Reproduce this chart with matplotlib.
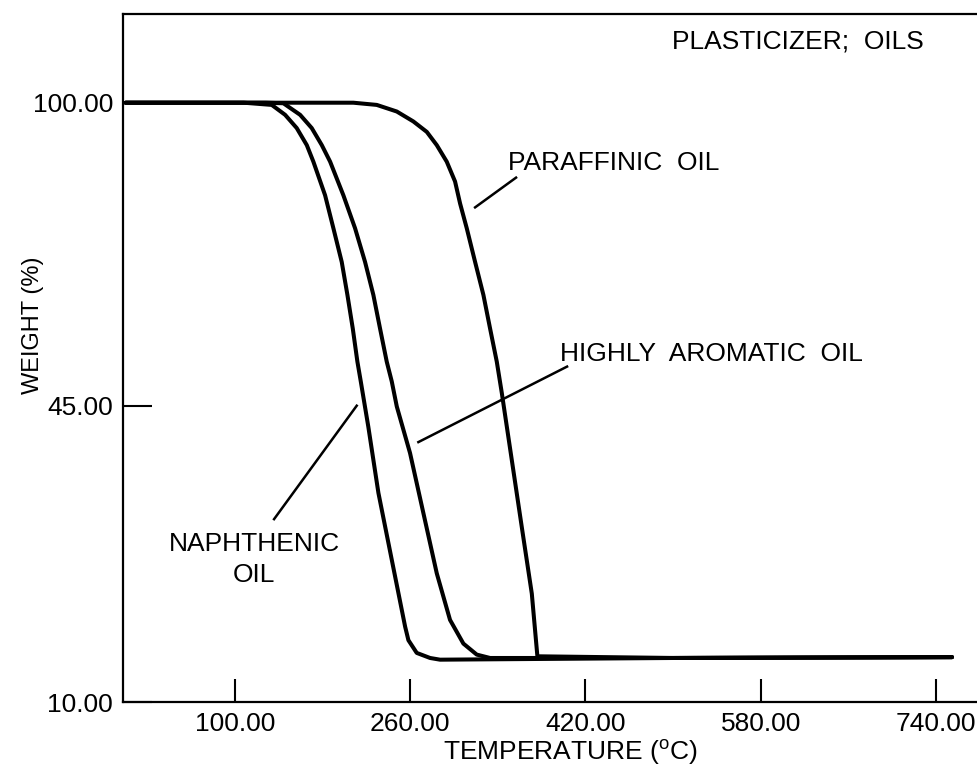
import numpy as np
import matplotlib
matplotlib.use("Agg")
import matplotlib.pyplot as plt

plt.rcParams['font.family'] = ['Liberation Sans', 'DejaVu Sans']
plt.rcParams['mathtext.fontset'] = 'custom'
plt.rcParams['mathtext.rm'] = 'Liberation Sans'

# temperature (C) / weight (%)
naph_t = [0, 108, 133.5, 145.7, 156.3, 165.5, 171.5, 182.2, 189.8, 197.4, 202.6,
          207.5, 211.7, 214.8, 221.7, 230.9, 243.1, 255.3, 258.3, 265.9, 278.1,
          287.2, 500, 754.8]
naph_w = [100, 100, 99.6, 97.8, 95.4, 92.3, 89.3, 83.2, 77.2, 71.1, 65.1,
          59.0, 53.0, 49.4, 42.5, 34.7, 26.8, 18.9, 17.3, 15.8, 15.2,
          15.0, 15.2, 15.3]

arom_t = [0, 128, 144.1, 159.4, 170.0, 179.2, 186.8, 198.9, 209.6, 218.7, 226.3,
          232.4, 238.5, 243.1, 247.7, 259.8, 272.0, 284.2, 296.3, 308.5, 320.7,
          332.9, 500, 754.8]
arom_w = [100, 100, 99.9, 97.8, 95.4, 92.3, 89.3, 83.2, 77.2, 71.1, 65.1,
          59.0, 53.0, 49.4, 44.9, 39.4, 32.3, 25.2, 19.7, 16.9, 15.6,
          15.2, 15.2, 15.3]

para_t = [0, 208, 229.4, 247.7, 262.8, 275.1, 284.2, 293.3, 300.9, 305.5, 311.6,
          319.2, 326.8, 332.9, 339.0, 343.6, 352.7, 361.8, 371.0, 376.1, 500, 754.8]
para_w = [100, 100, 99.6, 98.4, 96.6, 94.7, 92.3, 89.3, 85.7, 81.7, 77.2,
          71.1, 65.1, 59.0, 53.0, 47.3, 38.6, 30.7, 22.8, 15.4, 15.2, 15.3]

x_ticks = [100, 260, 420, 580, 740]
y_ticks = [10, 45, 100]


# the printed weight axis is not linear: 10-45 is stretched compared to 45-100
def fwd(w):
    w = np.asarray(w, dtype=float)
    return np.where(w < 45, (w - 45) * 8.466, (w - 45) * 5.509)


def inv(p):
    p = np.asarray(p, dtype=float)
    return np.where(p < 0, p / 8.466 + 45, p / 5.509 + 45)


fig = plt.figure(figsize=(9.78, 7.70), dpi=100)
ax = fig.add_axes([0.1255, 0.0883, 0.8745, 0.8935])
ax.set_yscale('function', functions=(fwd, inv))

for t, w in [(naph_t, naph_w), (arom_t, arom_w), (para_t, para_w)]:
    ax.plot(t, w, color='black', lw=2.9, solid_capstyle='round', solid_joinstyle='round')

ax.set_xlim(-2.6, 778.5)
ax.set_ylim(10, 116.1)

ax.set_xticks(x_ticks)
ax.set_xticklabels(['%.2f' % v for v in x_ticks])
ax.set_yticks(y_ticks)
ax.set_yticklabels(['%.2f' % v for v in y_ticks])
ax.minorticks_off()
ax.tick_params(axis='x', direction='in', length=16.5, width=1.5, pad=7, labelsize=19)
ax.tick_params(axis='y', direction='in', length=21, width=1.5, pad=7, labelsize=19)

ax.spines['right'].set_visible(False)
for s in ['left', 'bottom', 'top']:
    ax.spines[s].set_linewidth(1.6)

ax.set_xlabel(r'TEMPERATURE ($^{\mathrm{o}}$C)', fontsize=19)
ax.xaxis.set_label_coords(0.523, -0.052)
ax.set_ylabel('WEIGHT (%)', fontsize=17)
ax.yaxis.set_label_coords(-0.092, 0.548)

# labels and leader lines
ax.text(729.2, 109.9, 'PLASTICIZER;  OILS', fontsize=19, ha='right', va='baseline')
ax.text(349.3, 87.8, 'PARAFFINIC  OIL', fontsize=19, ha='left', va='baseline')
ax.plot([319.2, 356.6], [81.0, 86.4], color='black', lw=1.8)
ax.text(396.8, 53.2, 'HIGHLY  AROMATIC  OIL', fontsize=19, ha='left', va='baseline')
ax.plot([267.4, 403.2], [40.7, 52.1], color='black', lw=1.8)
ax.text(117.4, 27.8, 'NAPHTHENIC', fontsize=19, ha='center', va='baseline')
ax.text(117.4, 24.2, 'OIL', fontsize=19, ha='center', va='baseline')
ax.plot([135.6, 211.1], [31.6, 45.0], color='black', lw=1.8)

fig.savefig('out.png', dpi=100)
